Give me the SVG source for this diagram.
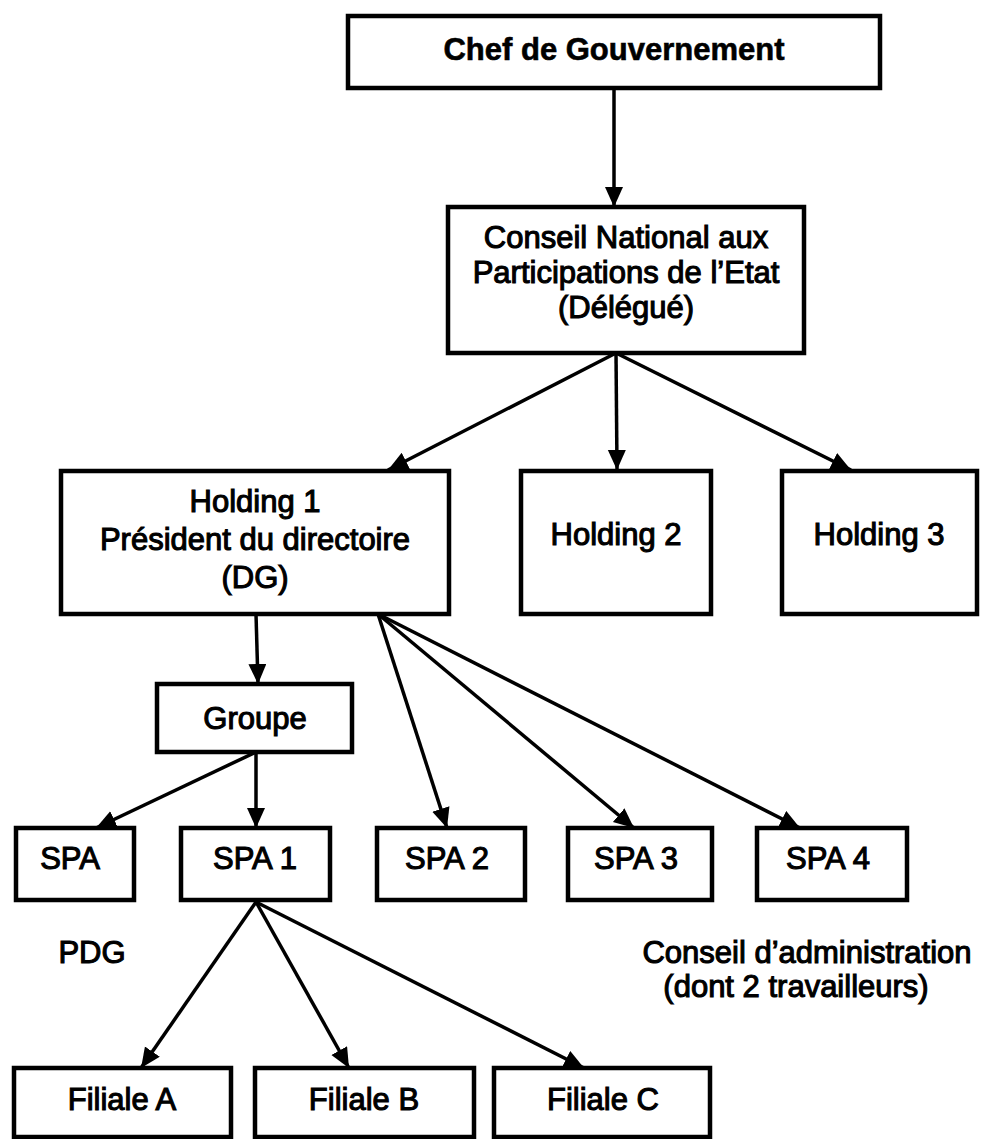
<svg xmlns="http://www.w3.org/2000/svg" width="981" height="1139" viewBox="0 0 981 1139">
<style>
.box{fill:#fff;stroke:#000;stroke-width:4.5}
.t{font-family:"Liberation Sans",Arial,sans-serif;font-size:31px;fill:#000;stroke:#000;stroke-width:1.1;text-anchor:middle}
.b{font-weight:bold;stroke-width:0.6}
.c{fill:none;stroke:#000;stroke-width:3.5}
</style>
<defs>
<marker id="ah" markerUnits="userSpaceOnUse" markerWidth="22" markerHeight="20" refX="20" refY="9" orient="auto" viewBox="0 0 22 20">
<path d="M0,0 L20,9 L0,18 z" fill="#000"/>
</marker>
</defs>
<rect width="981" height="1139" fill="#fff"/>
<g id="connectors">
<path class="c" d="M614,88 L614,207" marker-end="url(#ah)"/>
<path class="c" d="M616,353 L388,470" marker-end="url(#ah)"/>
<path class="c" d="M616,353 L617,470" marker-end="url(#ah)"/>
<path class="c" d="M616,353 L851,470" marker-end="url(#ah)"/>
<path class="c" d="M256,614 L258,684" marker-end="url(#ah)"/>
<path class="c" d="M378,614 L447,828" marker-end="url(#ah)"/>
<path class="c" d="M378,614 L634,828" marker-end="url(#ah)"/>
<path class="c" d="M378,614 L800,828" marker-end="url(#ah)"/>
<path class="c" d="M256,752 L96,828" marker-end="url(#ah)"/>
<path class="c" d="M256,752 L256,828" marker-end="url(#ah)"/>
<path class="c" d="M256,902 L141,1068" marker-end="url(#ah)"/>
<path class="c" d="M256,902 L349,1068" marker-end="url(#ah)"/>
<path class="c" d="M256,902 L584,1068" marker-end="url(#ah)"/>
</g>
<g id="chef"><rect class="box" x="348" y="16" width="532" height="72"/><text class="t b" x="614" y="60">Chef de Gouvernement</text></g>
<g id="conseil"><rect class="box" x="448" y="207" width="356" height="146"/>
<text class="t" x="626" y="248">Conseil National aux</text>
<text class="t" x="626" y="283">Participations de l’Etat</text>
<text class="t" x="626" y="318">(Délégué)</text></g>
<g id="holding1"><rect class="box" x="61" y="471" width="388" height="143"/>
<text class="t" x="255" y="512">Holding 1</text>
<text class="t" x="255" y="550">Président du directoire</text>
<text class="t" x="255" y="588">(DG)</text></g>
<g id="holding2"><rect class="box" x="521" y="471" width="190" height="143"/><text class="t" x="616" y="545">Holding 2</text></g>
<g id="holding3"><rect class="box" x="782" y="471" width="195" height="143"/><text class="t" x="879" y="545">Holding 3</text></g>
<g id="groupe"><rect class="box" x="157" y="684" width="195" height="68"/><text class="t" x="255" y="729">Groupe</text></g>
<g id="spa"><rect class="box" x="16" y="828" width="118" height="72"/><text class="t" x="70" y="869">SPA</text></g>
<g id="spa1"><rect class="box" x="181" y="828" width="149" height="72"/><text class="t" x="255" y="869">SPA 1</text></g>
<g id="spa2"><rect class="box" x="377" y="828" width="148" height="72"/><text class="t" x="447" y="869">SPA 2</text></g>
<g id="spa3"><rect class="box" x="568" y="828" width="144" height="72"/><text class="t" x="636" y="869">SPA 3</text></g>
<g id="spa4"><rect class="box" x="757" y="828" width="150" height="72"/><text class="t" x="828" y="869">SPA 4</text></g>
<g id="pdg"><text class="t" x="92" y="963">PDG</text></g>
<g id="ca"><text class="t" x="807" y="963">Conseil d’administration</text><text class="t" x="796" y="997">(dont 2 travailleurs)</text></g>
<g id="filialeA"><rect class="box" x="14" y="1068" width="217" height="69"/><text class="t" x="122" y="1110">Filiale A</text></g>
<g id="filialeB"><rect class="box" x="255" y="1068" width="219" height="69"/><text class="t" x="364" y="1110">Filiale B</text></g>
<g id="filialeC"><rect class="box" x="494" y="1068" width="216" height="69"/><text class="t" x="603" y="1110">Filiale C</text></g>
</svg>
